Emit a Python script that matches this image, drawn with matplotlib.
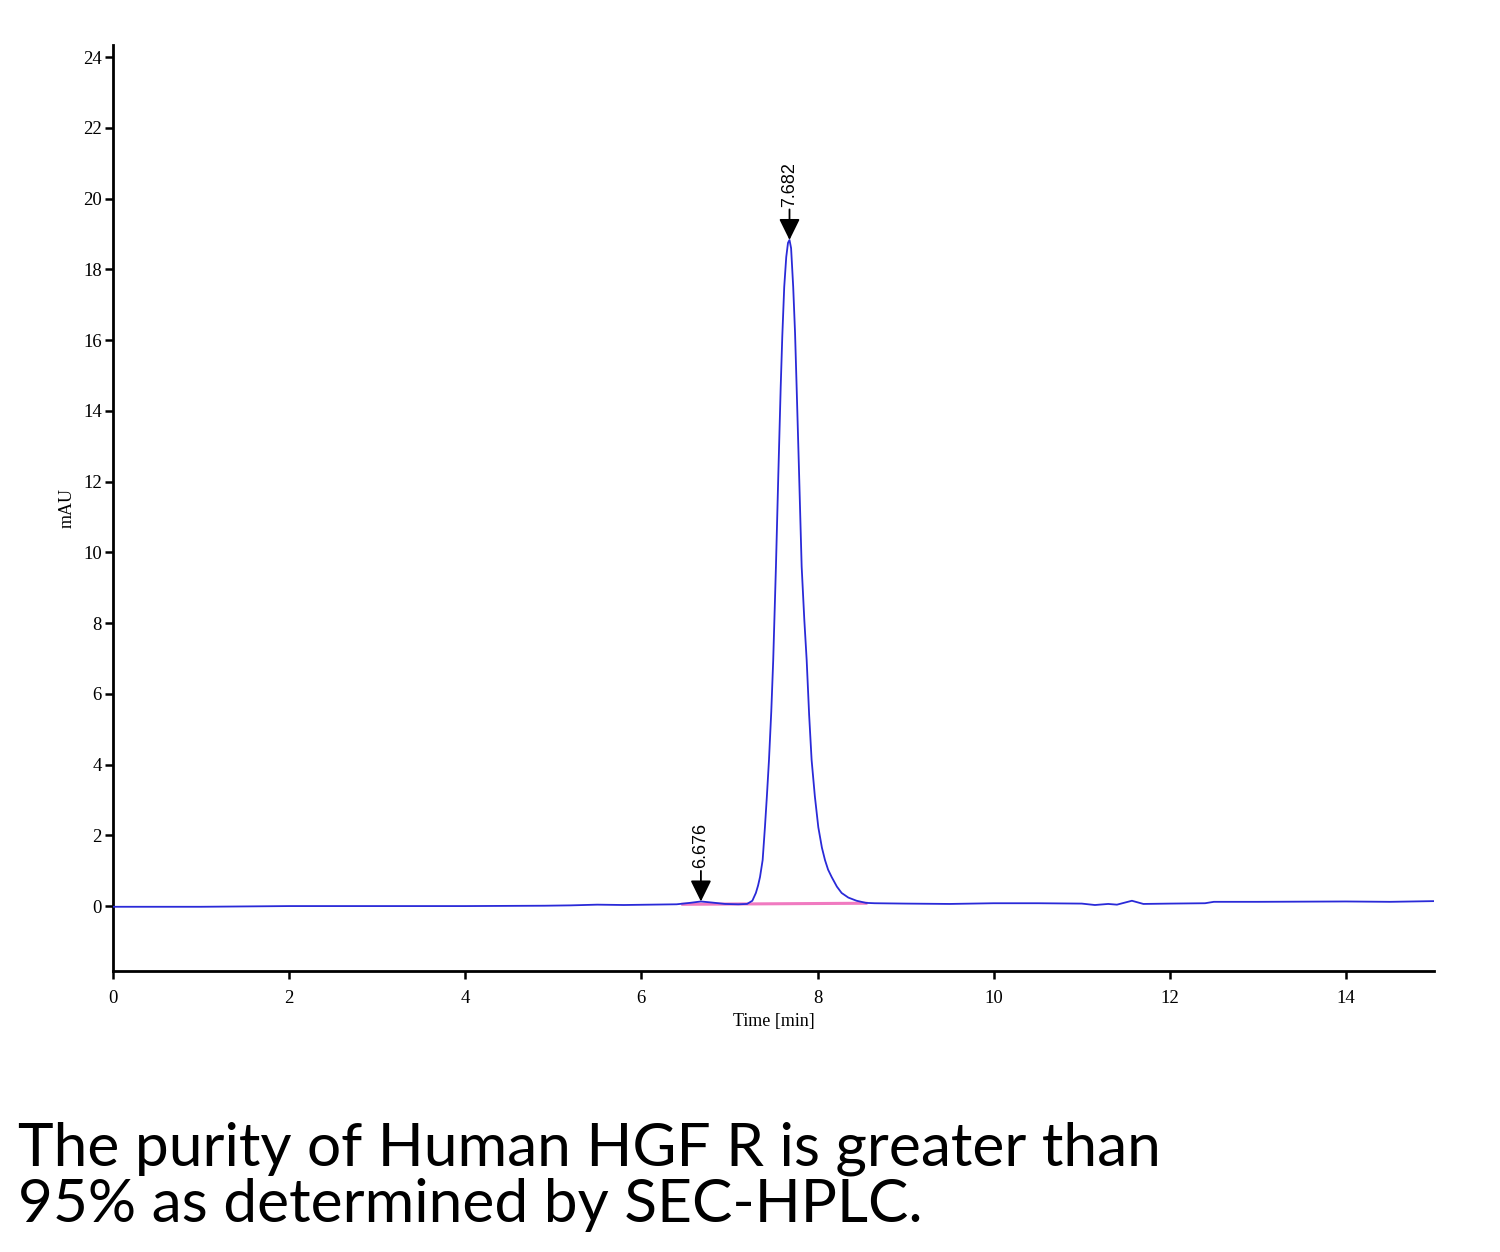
import matplotlib
matplotlib.use("Agg")
import matplotlib.pyplot as plt

# chromatogram trace (time in min, absorbance in mAU)
time_min = [0.0, 1.0, 2.0, 3.0, 4.0, 4.9, 5.2, 5.5, 5.8, 6.1, 6.4, 6.55, 6.676, 6.8, 6.95, 7.1,
            7.20, 7.26, 7.30, 7.325, 7.347, 7.377, 7.403, 7.425, 7.449, 7.475, 7.497, 7.528,
            7.555, 7.582, 7.60, 7.622, 7.645, 7.665, 7.682, 7.70, 7.724, 7.745, 7.763, 7.79,
            7.82, 7.85, 7.877, 7.905, 7.933, 7.97, 8.009, 8.05, 8.085, 8.12, 8.161, 8.22,
            8.274, 8.35, 8.444, 8.55, 8.65, 9.0, 9.5, 10.0, 10.5, 11.0, 11.15, 11.3, 11.4,
            11.57, 11.7, 12.0, 12.4, 12.5, 13.0, 14.0, 14.5, 15.0]
mau = [-0.02, -0.02, 0.0, 0.0, 0.0, 0.01, 0.02, 0.04, 0.03, 0.04, 0.05, 0.09, 0.13, 0.10, 0.06, 0.05,
       0.06, 0.15, 0.37, 0.58, 0.82, 1.30, 2.23, 3.1, 4.13, 5.5, 6.95, 9.6,
       12.2, 14.67, 16.1, 17.5, 18.35, 18.75, 18.83, 18.6, 17.5, 16.2, 14.67, 12.3,
       9.6, 8.1, 6.95, 5.4, 4.13, 3.1, 2.23, 1.65, 1.30, 1.03, 0.82, 0.55,
       0.37, 0.24, 0.15, 0.09, 0.08, 0.07, 0.06, 0.08, 0.08, 0.07, 0.03, 0.06, 0.04,
       0.15, 0.06, 0.07, 0.08, 0.12, 0.12, 0.13, 0.12, 0.14]

# integration baseline (pink)
base_t = [6.47, 8.55]
base_v = [0.05, 0.08]

# labelled peaks
peak_t = [6.676, 7.682]
peak_v = [0.13, 18.83]
peak_labels = ['6.676', '7.682']

fig = plt.figure(figsize=(15, 12.52), dpi=100)
ax = fig.add_axes([0.0753, 0.2244, 0.8807, 0.7396])

ax.plot(base_t, base_v, color='#f07ac0', lw=2.2, zorder=2)
ax.plot(time_min, mau, color='#2a2ad8', lw=1.3, zorder=3)

for t, v, lab in zip(peak_t, peak_v, peak_labels):
    ax.annotate('', xy=(t, v), xytext=(0, 22), textcoords='offset points',
                arrowprops=dict(arrowstyle='-|>,head_length=0.65,head_width=0.32',
                                color='black', lw=1.3, mutation_scale=20,
                                shrinkA=0, shrinkB=0), zorder=5)
    ax.annotate(lab, xy=(t, v), xytext=(0, 24), textcoords='offset points',
                rotation=90, ha='center', va='bottom', fontsize=13,
                family='Liberation Sans', color='black')

ax.set_xlim(0, 15)
ax.set_ylim(-1.837, 24.34)
ax.set_xticks(range(0, 15, 2))
ax.set_yticks(range(0, 25, 2))

for s in ['top', 'right']:
    ax.spines[s].set_visible(False)
for s in ['left', 'bottom']:
    ax.spines[s].set_linewidth(2)

ax.tick_params(axis='both', direction='out', length=6, width=1.8, labelsize=13.5)
ax.tick_params(axis='x', pad=8)
ax.tick_params(axis='y', pad=2)
for lbl in ax.get_xticklabels() + ax.get_yticklabels():
    lbl.set_family('Liberation Serif')

ax.set_xlabel('Time [min]', family='Liberation Serif', fontsize=13, labelpad=4)
ax.set_ylabel('mAU', family='Liberation Serif', fontsize=13, labelpad=5)

fig.text(0.012, 1 - 1165 / 1252, 'The purity of Human HGF R is greater than',
         family='Lato', fontsize=43.5, ha='left', va='baseline')
fig.text(0.012, 1 - 1222 / 1252, '95% as determined by SEC-HPLC.',
         family='Lato', fontsize=43.5, ha='left', va='baseline')

fig.savefig('out.png', dpi=100)
